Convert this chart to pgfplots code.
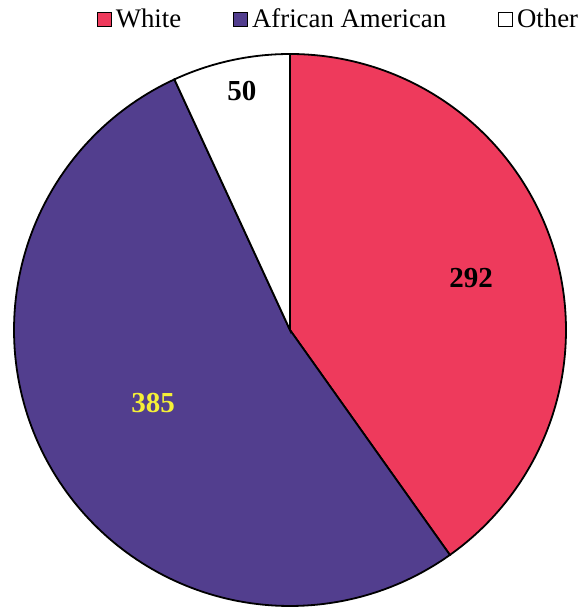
\documentclass[border=0pt]{standalone}
\usepackage{fontspec}
\setmainfont{Liberation Serif}
\usepackage{pgfplots}
\usepackage{pgfplotstable}
\pgfplotsset{compat=1.18}
\definecolor{redc}{RGB}{238,58,92}
\definecolor{purc}{RGB}{82,62,142}
\definecolor{yelc}{RGB}{245,240,55}
\pgfplotstableread{
group value
White 292
AfricanAmerican 385
Other 50
}\piedata
\begin{document}
\begin{tikzpicture}
\pgfplotstablegetelem{0}{value}\of\piedata\let\vA\pgfplotsretval
\pgfplotstablegetelem{1}{value}\of\piedata\let\vB\pgfplotsretval
\pgfplotstablegetelem{2}{value}\of\piedata\let\vC\pgfplotsretval
\pgfmathsetmacro{\tot}{\vA+\vB+\vC}
\pgfmathsetmacro{\aZero}{90}
\pgfmathsetmacro{\aOne}{90-360*(\vA/\tot)}
\pgfmathsetmacro{\aTwo}{\aOne-360*(\vB/\tot)}
\pgfmathsetmacro{\aThree}{\aTwo-360*(\vC/\tot)}
\path[use as bounding box] (0,0) rectangle (584bp,611bp);
\begin{axis}[
  at={(290bp,281bp)}, anchor=center,
  width=552bp, height=552bp, scale only axis,
  xmin=-1, xmax=1, ymin=-1, ymax=1,
  hide axis, clip=false,
  legend columns=-1,
  legend image code/.code={\draw[#1,line width=0.8bp] (0bp,-7bp) rectangle (14bp,7bp);},
  legend style={at={(0.150,1.063)}, anchor=west, draw=none, fill=none,
    inner sep=0pt, column sep=4bp, nodes={inner sep=0pt},
    font=\rmfamily\fontsize{26.8bp}{30bp}\selectfont},
]
\addplot[forget plot, fill=redc, draw=black, line width=1.8bp, domain=\aOne:\aZero, samples=150, variable=\t]
  ({cos(t)},{sin(t)}) -- (axis cs:0,0) -- cycle;
\addplot[forget plot, fill=purc, draw=black, line width=1.8bp, domain=\aTwo:\aOne, samples=150, variable=\t]
  ({cos(t)},{sin(t)}) -- (axis cs:0,0) -- cycle;
\addplot[forget plot, fill=white, draw=black, line width=1.8bp, domain=\aThree:\aTwo, samples=60, variable=\t]
  ({cos(t)},{sin(t)}) -- (axis cs:0,0) -- cycle;
\addlegendimage{fill=redc, draw=black}
\addlegendentry{White\rule{48bp}{0pt}}
\addlegendimage{fill=purc, draw=black}
\addlegendentry{African American\rule{48bp}{0pt}}
\addlegendimage{fill=white, draw=black}
\addlegendentry{Other}
\node[font=\rmfamily\fontsize{29bp}{32bp}\selectfont\bfseries, text=black] at (axis cs:0.656,0.19) {\vA};
\node[font=\rmfamily\fontsize{29bp}{32bp}\selectfont\bfseries, text=yelc] at (axis cs:-0.496,-0.265) {\vB};
\node[font=\rmfamily\fontsize{29bp}{32bp}\selectfont\bfseries, text=black] at (axis cs:-0.174,0.866) {\vC};
\end{axis}
\end{tikzpicture}
\end{document}
